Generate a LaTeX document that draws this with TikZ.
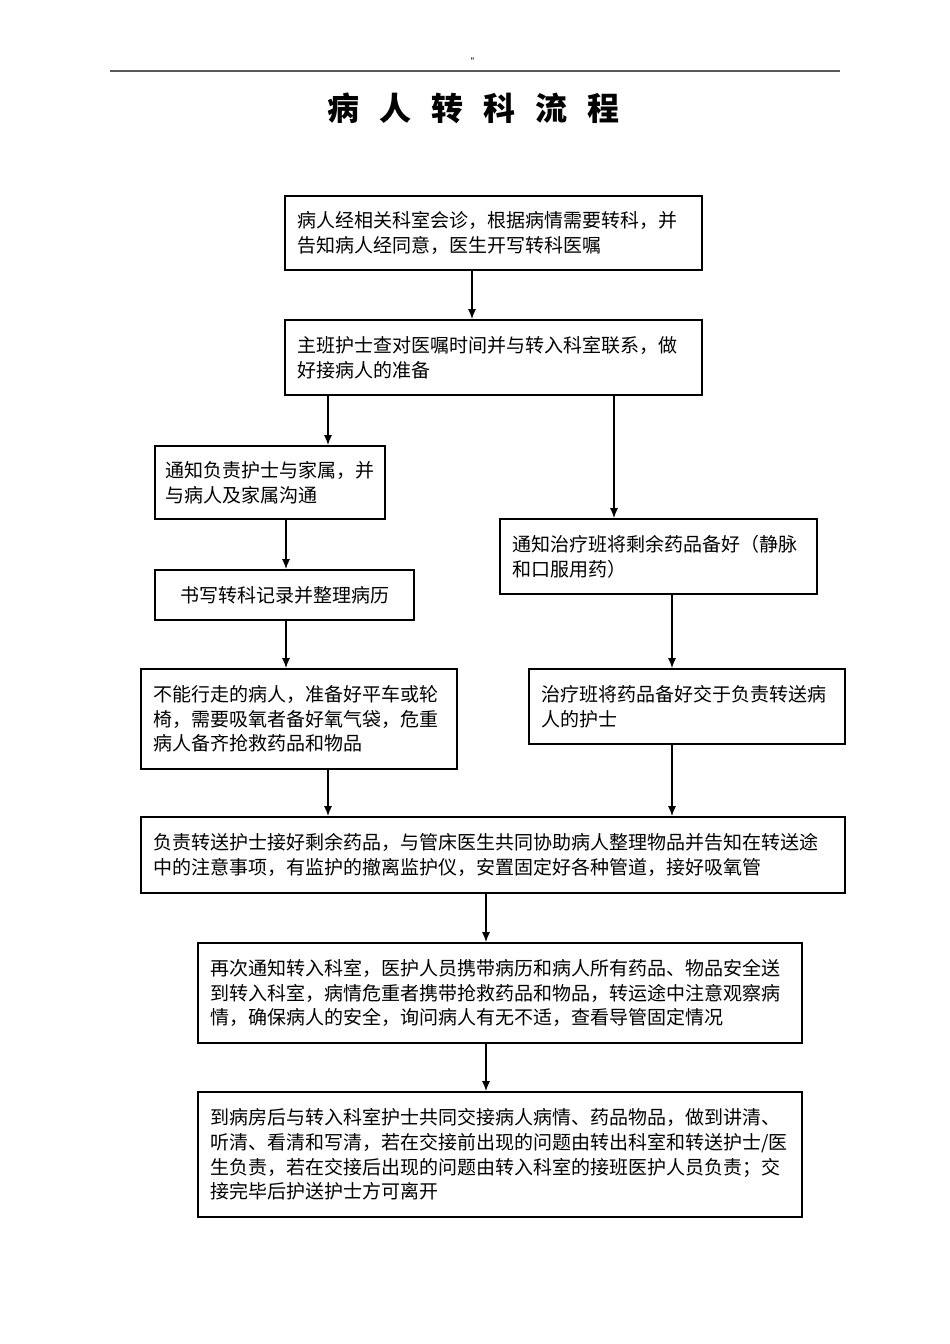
\documentclass[tikz,border=0pt]{standalone}
\usepackage{fontspec}
\setmainfont{Noto Sans CJK SC}
\usetikzlibrary{arrows.meta}
\usetikzlibrary{positioning}
\newcommand\tsp{\hspace{20pt}}

\begin{document}
\begin{tikzpicture}[x=1pt,y=-1pt,
  box/.style={draw,line width=1.6pt,rectangle,inner xsep=12pt,align=left,
    font=\fontsize{19}{24.7}\selectfont},
  arr/.style={-{Latex[length=10pt,width=8pt]},line width=1.6pt}]
\useasboundingbox (0,0) rectangle (950,1344);

% header
\node[font=\fontsize{9}{9}\selectfont] (mark) at (475,62) {\symbol{"22}};
\draw[black!65,line width=2.2pt] (110,71) -- (840,71);
\node[font=\fontsize{32}{32}\selectfont\bfseries] (title) at (473,108)
  {病\tsp 人\tsp 转\tsp 科\tsp 流\tsp 程};

% boxes
\node[box,text width=393pt,minimum height=74pt] (b1) at (493.5,233)
  {病人经相关科室会诊，根据病情需要转科，并\\告知病人经同意，医生开写转科医嘱};
\node[box,text width=393pt,minimum height=75pt] (b2) at (493.5,357.5)
  {主班护士查对医嘱时间并与转入科室联系，做\\好接病人的准备};
\node[box,inner xsep=10pt,text width=210pt,minimum height=73pt] (b3) at (270,482.5)
  {通知负责护士与家属，并\\与病人及家属沟通};
\node[box,text width=293pt,minimum height=75pt] (b4) at (658.5,556.5)
  {通知治疗班将剩余药品备好（静脉\\和口服用药）};
\node[box,align=center,text width=235pt,minimum height=50pt] (b5) at (284.5,595)
  {书写转科记录并整理病历};
\node[box,text width=292pt,minimum height=100pt] (b6) at (299,719)
  {不能行走的病人，准备好平车或轮\\椅，需要吸氧者备好氧气袋，危重\\病人备齐抢救药品和物品};
\node[box,text width=292pt,minimum height=75pt] (b7) at (687,706.5)
  {治疗班将药品备好交于负责转送病\\人的护士};
\node[box,text width=680pt,minimum height=76pt] (b8) at (493,855)
  {负责转送护士接好剩余药品，与管床医生共同协助病人整理物品并告知在转送途\\中的注意事项，有监护的撤离监护仪，安置固定好各种管道，接好吸氧管};
\node[box,text width=580pt,minimum height=100pt] (b9) at (500,993)
  {再次通知转入科室，医护人员携带病历和病人所有药品、物品安全送\\到转入科室，病情危重者携带抢救药品和物品，转运途中注意观察病\\情，确保病人的安全，询问病人有无不适，查看导管固定情况};
\node[box,text width=580pt,minimum height=125pt] (b10) at (500,1154.5)
  {到病房后与转入科室护士共同交接病人病情、药品物品，做到讲清、\\听清、看清和写清，若在交接前出现的问题由转出科室和转送护士/医\\生负责，若在交接后出现的问题由转入科室的接班医护人员负责；交\\接完毕后护送护士方可离开};

% arrow columns
\coordinate (xa) at (472,0);
\coordinate (xl) at (328,0);
\coordinate (xr) at (614,0);
\coordinate (xw) at (286,0);
\coordinate (xm) at (672,0);
\coordinate (xc) at (486,0);

\draw[arr] (b1.south -| xa) -- (b2.north -| xa);
\draw[arr] (b2.south -| xl) -- (b3.north -| xl);
\draw[arr] (b2.south -| xr) -- (b4.north -| xr);
\draw[arr] (b3.south -| xw) -- (b5.north -| xw);
\draw[arr] (b5.south -| xw) -- (b6.north -| xw);
\draw[arr] (b4.south -| xm) -- (b7.north -| xm);
\draw[arr] (b6.south -| xl) -- (b8.north -| xl);
\draw[arr] (b7.south -| xm) -- (b8.north -| xm);
\draw[arr] (b8.south -| xc) -- (b9.north -| xc);
\draw[arr] (b9.south -| xc) -- (b10.north -| xc);

\end{tikzpicture}
\end{document}
